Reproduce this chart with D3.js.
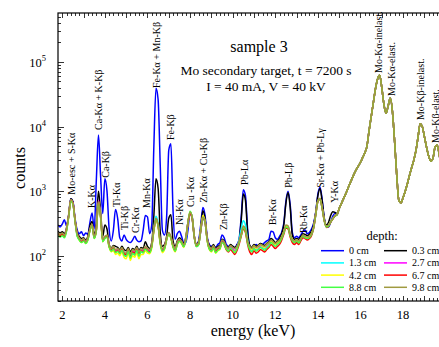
<!DOCTYPE html>
<html><head><meta charset="utf-8">
<script src="https://cdn.jsdelivr.net/npm/d3@7"></script>
<style>
body{margin:0;background:#fff;}
svg text{font-family:"Liberation Serif","Times New Roman","DejaVu Serif",serif;fill:#000;}
</style></head>
<body><svg id="c" width="439" height="347" font-family="Liberation Serif, Times New Roman, DejaVu Serif, serif"></svg>
<script>
// energy grid (keV), channel step 0.1 from 1.8 to 19.8
const energy = d3.range(181).map(i => Math.round((1.8 + i * 0.1) * 10) / 10);

// counts 1.8 - 14.9 keV for each depth (rows: 1.8-2.7, 2.8-3.7, ...)
const d0cm = [
 300,280,310,360,290,420,760,690,380,250,
 220,235,205,225,215,330,460,260,1500,7400,
 1700,450,1550,1000,260,170,250,520,380,190,
 170,210,180,165,160,175,200,175,165,170,
 250,420,400,220,300,5000,39000,26000,2500,250,
 210,400,4300,5400,500,180,220,240,200,160,
 160,250,470,400,200,150,170,300,560,430,
 200,150,140,145,135,150,160,210,190,150,
 140,135,140,130,150,180,400,1050,850,260,
 140,125,140,150,140,155,150,160,170,180,
 240,235,190,180,200,230,320,700,1000,620,
 230,190,200,190,210,240,250,220,230,260,
 320,480,900,1150,750,380,290,280,330,410,
 450,430];
const d03cm = [
 240,225,235,220,270,430,760,680,360,230,
 200,185,190,175,200,290,340,210,320,1000,
 480,200,300,260,150,130,145,140,135,125,
 140,125,120,135,115,130,125,140,120,135,
 130,165,140,130,160,420,1550,1100,230,140,
 150,200,380,430,170,140,170,190,175,155,
 195,330,460,390,200,150,165,260,500,380,
 190,145,135,150,130,140,145,180,170,140,
 135,150,140,135,145,170,350,900,720,230,
 145,135,150,140,145,155,150,145,155,165,
 185,175,160,170,185,220,300,650,950,560,
 210,180,185,180,200,220,215,205,215,240,
 300,470,850,1100,700,380,300,330,420,480,
 470,450];
const d13cm = [
 220,205,215,200,250,400,720,640,350,210,
 180,165,175,160,180,250,300,190,250,680,
 400,170,190,200,140,120,130,115,120,110,
 120,105,100,115,95,110,105,120,100,115,
 110,125,120,115,140,270,410,320,160,120,
 130,180,220,190,140,120,150,170,160,140,
 175,310,450,370,190,140,150,240,380,330,
 180,130,120,135,115,125,130,165,155,130,
 120,135,125,120,135,180,260,350,300,180,
 130,120,135,125,130,140,135,130,140,150,
 165,160,150,155,170,190,230,290,280,210,
 170,160,165,160,180,200,195,185,195,215,
 270,430,700,760,540,350,280,290,335,380,
 415,435];
const d27cm = [
 225,210,220,205,255,410,730,660,355,215,
 185,170,180,165,185,255,305,195,255,720,
 410,175,195,205,145,125,135,120,125,118,
 130,112,108,125,102,120,115,130,110,125,
 120,135,125,120,145,250,370,290,165,125,
 135,185,225,195,145,125,160,175,165,145,
 185,320,460,375,195,145,155,245,390,340,
 185,135,125,140,120,130,135,170,160,135,
 125,140,130,120,135,165,215,280,250,165,
 135,125,140,130,135,145,140,135,145,155,
 170,160,150,160,170,195,235,290,280,215,
 175,165,170,165,180,205,195,190,195,215,
 275,440,710,770,550,355,285,295,335,375,
 415,435];
const d42cm = [
 215,200,210,195,245,400,710,640,345,205,
 175,160,170,155,175,245,290,185,245,660,
 390,165,185,195,135,115,120,105,110,100,
 115,95,90,110,85,100,95,110,90,105,
 105,120,110,108,130,240,360,280,150,112,
 125,175,215,185,135,115,150,165,155,135,
 180,320,480,390,195,140,150,260,420,350,
 175,125,115,130,110,120,125,160,150,125,
 118,130,120,115,130,160,205,270,240,160,
 135,125,145,130,140,150,140,135,150,160,
 170,160,150,160,170,195,235,290,280,215,
 180,165,175,165,185,205,195,190,200,220,
 275,440,700,760,550,350,285,295,335,375,
 415,435];
const d67cm = [
 220,205,215,200,250,405,720,650,350,210,
 180,165,175,160,180,250,300,190,250,690,
 400,170,190,200,140,122,130,115,120,112,
 125,108,104,120,98,115,110,125,105,120,
 115,130,120,115,140,250,370,290,160,120,
 130,180,220,190,140,120,155,170,160,140,
 180,310,450,370,190,140,150,240,380,330,
 180,130,120,135,115,125,130,165,150,125,
 115,125,115,105,120,150,200,260,230,150,
 115,105,120,110,115,125,120,115,125,135,
 150,140,130,140,150,175,215,270,260,195,
 160,150,160,150,170,190,185,175,185,205,
 265,430,690,750,540,345,275,285,330,370,
 410,430];
const d88cm = [
 210,195,205,190,240,395,700,630,340,200,
 175,160,170,155,175,245,295,185,245,670,
 395,165,185,195,138,118,128,112,118,108,
 122,102,98,118,92,110,102,122,98,118,
 112,128,118,112,138,245,365,285,155,118,
 128,178,218,188,138,118,152,168,158,138,
 178,330,490,385,192,138,148,245,390,335,
 178,128,118,132,112,122,128,162,150,128,
 118,132,122,112,128,158,205,270,240,158,
 125,115,130,118,125,135,128,122,132,142,
 160,150,140,150,160,185,225,280,270,205,
 170,160,170,158,180,200,190,185,192,212,
 270,435,700,760,545,350,280,290,335,375,
 412,432];
const d98cm = [
 230,215,225,210,260,420,740,650,360,220,
 190,175,185,165,190,260,310,200,260,700,
 420,180,200,210,150,130,140,125,130,120,
 135,115,110,130,105,125,120,135,115,130,
 125,140,130,125,150,260,380,300,170,130,
 140,190,230,200,150,130,165,180,170,150,
 190,330,470,380,200,150,160,250,400,350,
 190,140,130,145,125,135,140,175,165,140,
 130,145,135,130,140,170,220,290,260,170,
 140,130,145,135,140,150,145,140,150,160,
 175,165,155,165,175,200,240,300,290,220,
 180,170,175,170,185,210,200,195,200,220,
 280,450,720,780,560,360,290,300,340,380,
 420,440];
// 15.0 - 19.8 keV: scattered Mo lines, identical for all depths
const moScatter = [
 540,640,760,900,1080,1300,1550,1850,2150,2450,
 2800,3300,3900,4900,8500,14000,23000,38000,54000,62000,
 40000,22000,16000,21000,27500,17000,6000,1800,720,660,
 800,1000,1300,1750,2300,3000,4200,6800,11000,10000,
 7000,4800,3500,2900,3200,4800,5200,3600,2300];

const depths = ["0 cm","0.3 cm","1.3 cm","2.7 cm","4.2 cm","6.7 cm","8.8 cm","9.8 cm"];
const lowParts = [d0cm,d03cm,d13cm,d27cm,d42cm,d67cm,d88cm,d98cm];
const colors = ["#0000ff","#000000","#00ffff","#ff00ff","#ffff00","#ff0000","#44ff44","#a09a40"];

const peakNames = ["Mo-esc + S-Kα","K-Kα","Ca-Kα + K-Kβ","Ca-Kβ","Ti-Kα","Ti-Kβ","Cr-Kα","Mn-Kα",
 "Fe-Kα + Mn-Kβ","Fe-Kβ","Ni-Kα","Cu -Kα","Zn-Kα + Cu-Kβ","Zn-Kβ","Pb-Lα","Br-Kα","Pb-Lβ","Rb-Kα",
 "Sr-Kα + Pb-Lγ","Y-Kα","Mo-Kα-inelast.","Mo-Kα-elast.","Mo-Kβ-inelast.","Mo-Kβ-elast."];
const peakEnergy = [2.42,3.36,3.70,4.05,4.53,4.93,5.43,5.94,6.44,7.07,7.49,8.02,8.62,9.55,10.55,11.86,12.6,13.32,14.1,14.78,16.85,17.44,18.8,19.5];
const peakLabelCounts = [880,550,8850,1610,570,250,226,550,39500,6200,300,570,660,250,1250,300,1125,226,1125,660,67300,29700,12600,5570];

const xTickLabels = [2,4,6,8,10,12,14,16,18,20];
const yTickExp = [2,3,4,5];

const FONT = "Liberation Serif, Times New Roman, DejaVu Serif, serif";
const svg = d3.select("#c");
const x = d3.scaleLinear().domain([1.8, 20]).range([58, 445.7]);
const y = d3.scaleLog().domain([20, 570000]).range([301, 13]);
const L = 58, R = 445.7, T = 13, B = 301;

svg.append("defs").append("clipPath").attr("id","clip")
  .append("rect").attr("x",L).attr("y",T).attr("width",R-L).attr("height",B-T);

const line = d3.line().x(d => x(d[0])).y(d => y(d[1])).curve(d3.curveMonotoneX);
const g = svg.append("g").attr("clip-path","url(#clip)");
lowParts.forEach((lp, i) => {
  const vals = lp.concat(moScatter);
  const pts = energy.map((e, k) => [e, vals[k]]);
  g.append("path").attr("d", line(pts)).attr("fill","none")
   .attr("stroke", colors[i]).attr("stroke-width", 1.5).attr("stroke-linejoin","round");
});

// frame
svg.append("rect").attr("x",L).attr("y",T).attr("width",R-L).attr("height",B-T)
  .attr("fill","none").attr("stroke","#000").attr("stroke-width",1.2);

// x ticks (bottom & top, inward)
const xMinor = d3.range(10, 101).map(i => i / 5).filter(v => v >= 1.8 && v <= 20);
xMinor.forEach(v => {
  const isInt = Math.abs(v - Math.round(v)) < 1e-6;
  const len = isInt ? 5 : 3;
  const px = Math.round(x(v)) + 0.5;
  svg.append("line").attr("x1",px).attr("x2",px).attr("y1",B).attr("y2",B-len).attr("stroke","#000").attr("stroke-width",0.8);
  svg.append("line").attr("x1",px).attr("x2",px).attr("y1",T).attr("y2",T+len).attr("stroke","#000").attr("stroke-width",0.8);
});
xTickLabels.forEach(v => {
  svg.append("text").attr("x", x(v)).attr("y", 319).attr("text-anchor","middle")
    .attr("font-family", FONT).attr("font-size", 12.5).text(v);
});

// y ticks (left, inward)
for (let p = 1; p <= 5; p++) {
  for (let m = 1; m <= 9; m++) {
    const v = m * Math.pow(10, p);
    if (v < 20 || v > 570000) continue;
    const py = Math.round(y(v)) + 0.5;
    const len = m === 1 ? 6 : 3;
    svg.append("line").attr("x1",L).attr("x2",L+len).attr("y1",py).attr("y2",py).attr("stroke","#000").attr("stroke-width",0.8);
  }
}
yTickExp.forEach(p => {
  const t = svg.append("text").attr("x", 46).attr("y", y(Math.pow(10,p)) + 5)
    .attr("text-anchor","end").attr("font-family", FONT).attr("font-size", 12.5);
  t.append("tspan").text("10");
  t.append("tspan").attr("dy", -6).attr("font-size", 8.5).text(p);
});

// axis titles
svg.append("text").attr("x", 253).attr("y", 336).attr("text-anchor","middle")
  .attr("font-family", FONT).attr("font-size", 16).text("energy (keV)");
svg.append("text").attr("transform","translate(25,168) rotate(-90)")
  .attr("text-anchor","middle").attr("font-family", FONT).attr("font-size", 16).text("counts");

// title block
svg.append("text").attr("x", 259).attr("y", 52).attr("text-anchor","middle").attr("font-family", FONT).attr("font-size", 16).text("sample 3");
svg.append("text").attr("x", 266).attr("y", 75).attr("text-anchor","middle").attr("font-family", FONT).attr("font-size", 13.5).text("Mo secondary target, t = 7200 s");
svg.append("text").attr("x", 266).attr("y", 91).attr("text-anchor","middle").attr("font-family", FONT).attr("font-size", 13.5).text("I = 40 mA, V = 40 kV");

// peak labels
peakNames.forEach((n, i) => {
  svg.append("text")
    .attr("transform", `translate(${x(peakEnergy[i])},${y(peakLabelCounts[i])}) rotate(-90)`)
    .attr("dy","0.35em").attr("font-family", FONT).attr("font-size", 10).text(n);
});

// legend
svg.append("text").attr("x", 382).attr("y", 240).attr("text-anchor","middle").attr("font-family", FONT).attr("font-size", 12.5).text("depth:");
depths.forEach((d, i) => {
  const col = i % 2, row = Math.floor(i / 2);
  const lx = 321 + col * 63, ly = 250.7 + row * 12.2;
  svg.append("line").attr("x1", lx).attr("x2", lx + 23).attr("y1", ly).attr("y2", ly)
    .attr("stroke", colors[i]).attr("stroke-width", 1.5);
  svg.append("text").attr("x", lx + 28).attr("y", ly + 3.5).attr("font-family", FONT).attr("font-size", 10).text(d);
});
</script></body></html>
